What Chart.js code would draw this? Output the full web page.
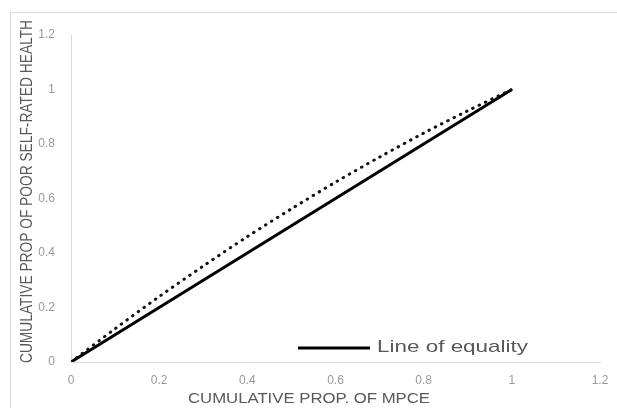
<!DOCTYPE html>
<html>
<head>
<meta charset="utf-8">
<script src="https://cdn.jsdelivr.net/npm/chart.js@4/dist/chart.umd.min.js"></script>
<style>
html,body{margin:0;padding:0;background:#fff;}
#wrap{width:617px;height:408px;position:relative;}
</style>
</head>
<body>
<div id="wrap"><canvas id="c" width="617" height="408"></canvas></div>
<script>
// Data
const xValues = [0, 0.1, 0.2, 0.3, 0.4, 0.5, 0.6, 0.7, 0.8, 0.9, 1.0];
const concentrationCurve = [0, 0.122, 0.24, 0.352, 0.46, 0.562, 0.66, 0.752, 0.84, 0.922, 1.0];
const equalityLine = [0, 0.1, 0.2, 0.3, 0.4, 0.5, 0.6, 0.7, 0.8, 0.9, 1.0];
const tickValues = [0, 0.2, 0.4, 0.6, 0.8, 1, 1.2];
const xTitle = "CUMULATIVE PROP. OF MPCE";
const yTitle = "CUMULATIVE PROP OF POOR SELF-RATED HEALTH";
const legendLabel = "Line of equality";

const toPoints = ys => xValues.map((x, i) => ({x: x, y: ys[i]}));

const decor = {
  id: 'decor',
  beforeDraw(chart) {
    const ctx = chart.ctx;
    ctx.save();
    ctx.strokeStyle = '#d9d9d9';
    ctx.lineWidth = 1;
    ctx.strokeRect(10.5, 12.5, 700, 500);
    ctx.restore();
  },
  afterDraw(chart) {
    const ctx = chart.ctx;
    function fitText(txt, cx, cy, width, font, color, rot) {
      ctx.save();
      ctx.font = font;
      ctx.fillStyle = color;
      ctx.textAlign = 'center';
      ctx.textBaseline = 'middle';
      const w = ctx.measureText(txt).width;
      ctx.translate(cx, cy);
      if (rot) ctx.rotate(rot);
      ctx.scale(width / w, 1);
      ctx.fillText(txt, 0, 0);
      ctx.restore();
    }
    // axis titles
    fitText(xTitle, 309, 399, 242, '15px "Liberation Sans"', '#595959', 0);
    fitText(yTitle, 28, 191.5, 343, '16px "Liberation Sans"', '#595959', -Math.PI / 2);
    // legend
    ctx.save();
    ctx.strokeStyle = '#000';
    ctx.lineWidth = 3;
    ctx.beginPath();
    ctx.moveTo(298, 348);
    ctx.lineTo(370, 348);
    ctx.stroke();
    ctx.restore();
    ctx.save();
    ctx.font = '17px "Liberation Sans"';
    ctx.fillStyle = '#595959';
    ctx.textAlign = 'left';
    ctx.textBaseline = 'middle';
    const w = ctx.measureText(legendLabel).width;
    ctx.translate(377, 347);
    ctx.scale(151 / w, 1);
    ctx.fillText(legendLabel, 0, 0);
    ctx.restore();
  }
};

new Chart(document.getElementById('c'), {
  type: 'line',
  data: {
    datasets: [
      {
        label: 'Concentration curve',
        data: toPoints(concentrationCurve),
        borderColor: '#111',
        borderWidth: 3,
        borderDash: [0.5, 6.5],
        borderCapStyle: 'round',
        pointRadius: 0,
        tension: 0.3,
        fill: false
      },
      {
        label: legendLabel,
        data: toPoints(equalityLine),
        borderColor: '#000',
        borderWidth: 3,
        pointRadius: 0,
        fill: false
      }
    ]
  },
  options: {
    responsive: false,
    animation: false,
    layout: {padding: {top: 35, right: 17, left: 0, bottom: 0}},
    plugins: {
      legend: {display: false},
      tooltip: {enabled: false}
    },
    scales: {
      x: {
        type: 'linear',
        min: 0, max: 1.2,
        afterBuildTicks: s => { s.ticks = tickValues.map(v => ({value: v})); },
        afterFit: s => { s.height = 46; },
        grid: {display: false},
        border: {display: true, color: '#d9d9d9', width: 1},
        ticks: {
          color: '#999',
          font: {family: 'Liberation Sans', size: 12},
          padding: 3,
          maxRotation: 0,
          callback: v => String(v)
        }
      },
      y: {
        type: 'linear',
        min: 0, max: 1.2,
        afterBuildTicks: s => { s.ticks = tickValues.map(v => ({value: v})); },
        afterFit: s => { s.width = 71; },
        grid: {display: false},
        border: {display: true, color: '#d9d9d9', width: 1},
        ticks: {
          color: '#999',
          font: {family: 'Liberation Sans', size: 12},
          padding: 8,
          callback: v => String(v)
        }
      }
    }
  },
  plugins: [decor]
});
</script>
</body>
</html>
